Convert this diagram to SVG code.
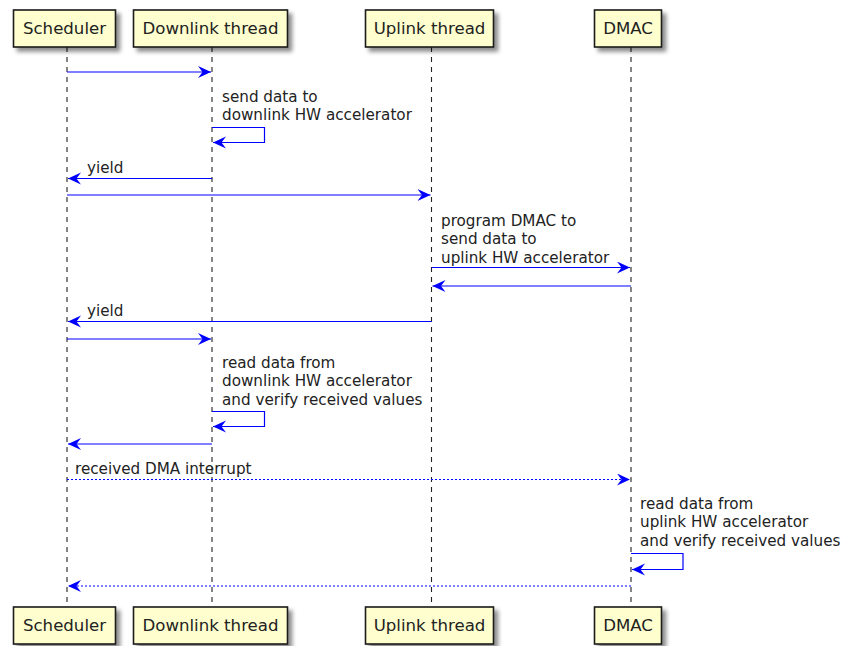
<svg xmlns="http://www.w3.org/2000/svg" width="844" height="646" viewBox="0 0 844 646">
<defs>
<filter id="sh" x="-20%" y="-20%" width="150%" height="160%">
<feGaussianBlur in="SourceAlpha" stdDeviation="2"/>
<feOffset dx="4" dy="4" result="b"/>
<feComponentTransfer><feFuncA type="linear" slope="0.45"/></feComponentTransfer>
<feMerge><feMergeNode/><feMergeNode in="SourceGraphic"/></feMerge>
</filter>
<marker id="ah" markerUnits="userSpaceOnUse" markerWidth="15" markerHeight="13" refX="13" refY="6" orient="auto">
<path d="M0,0 L13,6 L0,12 L4.5,6 Z" fill="#0000FF"/>
</marker>
</defs>
<style>
.box{fill:#FEFECE;stroke:#1a1a1a;stroke-width:1.6}
.pl{font-family:"DejaVu Sans",sans-serif;font-size:16.6px;fill:#222;text-anchor:middle}
.life{stroke:#222;stroke-width:1.1;stroke-dasharray:5,5;fill:none}
.msg{stroke:#0000FF;stroke-width:1.2;fill:none;marker-end:url(#ah)}
.dot{stroke-dasharray:2,2}
.t{font-family:"DejaVu Sans",sans-serif;font-size:15.2px;fill:#222}
</style>
<g id="lifelines">
<line class="life" x1="67" y1="47" x2="67" y2="607"/>
<line class="life" x1="212" y1="47" x2="212" y2="607"/>
<line class="life" x1="431.5" y1="47" x2="431.5" y2="607"/>
<line class="life" x1="631" y1="47" x2="631" y2="607"/>
</g>
<g id="scheduler">
<rect class="box" x="13.5" y="10" width="102" height="37" filter="url(#sh)"/>
<text class="pl" x="64.5" y="34">Scheduler</text>
<rect class="box" x="13.5" y="607" width="102" height="37" filter="url(#sh)"/>
<text class="pl" x="64.5" y="631">Scheduler</text>
</g>
<g id="downlink">
<rect class="box" x="133.5" y="10" width="154" height="37" filter="url(#sh)"/>
<text class="pl" x="210.5" y="34">Downlink thread</text>
<rect class="box" x="133.5" y="607" width="154" height="37" filter="url(#sh)"/>
<text class="pl" x="210.5" y="631">Downlink thread</text>
</g>
<g id="uplink">
<rect class="box" x="365.5" y="10" width="128" height="37" filter="url(#sh)"/>
<text class="pl" x="429.5" y="34">Uplink thread</text>
<rect class="box" x="365.5" y="607" width="128" height="37" filter="url(#sh)"/>
<text class="pl" x="429.5" y="631">Uplink thread</text>
</g>
<g id="dmac">
<rect class="box" x="594.5" y="10" width="67" height="37" filter="url(#sh)"/>
<text class="pl" x="628" y="34">DMAC</text>
<rect class="box" x="594.5" y="607" width="67" height="37" filter="url(#sh)"/>
<text class="pl" x="628" y="631">DMAC</text>
</g>
<g id="connectors">
<line class="msg" x1="67" y1="72" x2="211" y2="72"/>
<path class="msg" d="M212,127.5 H264.5 V142.5 H213"/>
<text class="t" x="222" y="101.5">send data to</text>
<text class="t" x="222" y="119.5">downlink HW accelerator</text>
<line class="msg" x1="212" y1="178.5" x2="68" y2="178.5"/>
<text class="t" x="87" y="172.5">yield</text>
<line class="msg" x1="67" y1="195" x2="430.5" y2="195"/>
<line class="msg" x1="431.5" y1="267.5" x2="630" y2="267.5"/>
<text class="t" x="441" y="225.5">program DMAC to</text>
<text class="t" x="441" y="244">send data to</text>
<text class="t" x="441" y="262.5">uplink HW accelerator</text>
<line class="msg" x1="631" y1="286" x2="432.5" y2="286"/>
<line class="msg" x1="431.5" y1="321.5" x2="68" y2="321.5"/>
<text class="t" x="87" y="315.5">yield</text>
<line class="msg" x1="67" y1="339" x2="211" y2="339"/>
<path class="msg" d="M212,411.5 H264.5 V426.5 H213"/>
<text class="t" x="222" y="367.5">read data from</text>
<text class="t" x="222" y="386">downlink HW accelerator</text>
<text class="t" x="222" y="404.5">and verify received values</text>
<line class="msg" x1="212" y1="444" x2="68" y2="444"/>
<line class="msg dot" x1="67" y1="479.5" x2="630" y2="479.5"/>
<text class="t" x="75" y="473.5">received DMA interrupt</text>
<path class="msg" d="M631,553.5 H683 V569.5 H632"/>
<text class="t" x="640" y="508.5">read data from</text>
<text class="t" x="640" y="527">uplink HW accelerator</text>
<text class="t" x="640" y="545.5">and verify received values</text>
<line class="msg dot" x1="631" y1="586" x2="68" y2="586"/>
</g>
</svg>
